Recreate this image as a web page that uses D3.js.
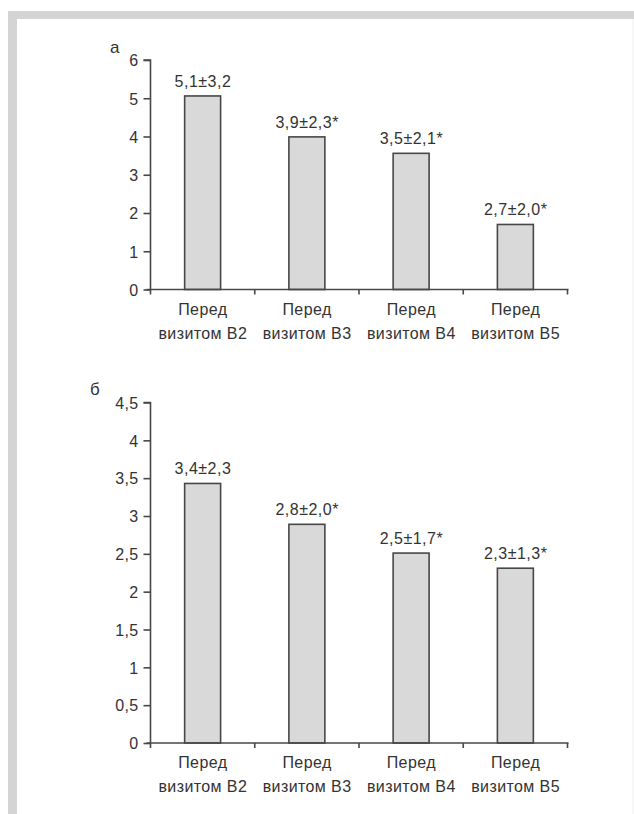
<!DOCTYPE html>
<html>
<head>
<meta charset="utf-8">
<script src="https://cdn.jsdelivr.net/npm/d3@7"></script>
<style>
  html, body { margin: 0; padding: 0; background: #fff; }
  svg { display: block; }
  text { font-family: "Liberation Sans", Arial, sans-serif; fill: #333; }
</style>
</head>
<body>
<svg width="634" height="814"></svg>
<script>
// categories shared by both panels
const categories = ["Перед визитом В2", "Перед визитом В3", "Перед визитом В4", "Перед визитом В5"]

// panel а
const valuesA = [5.06, 3.99, 3.56, 1.70]
const labelsA = ["5,1±3,2", "3,9±2,3*", "3,5±2,1*", "2,7±2,0*"]
const ticksA = [0, 1, 2, 3, 4, 5, 6]

// panel б
const valuesB = [3.43, 2.89, 2.51, 2.31]
const labelsB = ["3,4±2,3", "2,8±2,0*", "2,5±1,7*", "2,3±1,3*"]
const ticksB = [0, 0.5, 1, 1.5, 2, 2.5, 3, 3.5, 4, 4.5]

const svg = d3.select("svg")
const ink = "#474747"
const fmt = v => String(v).replace(".", ",")

// grey frame (top and left bands)
svg.append("rect").attr("x", 8).attr("y", 11).attr("width", 626).attr("height", 8).attr("fill", "#d4d4d4")
svg.append("rect").attr("x", 8).attr("y", 11).attr("width", 9).attr("height", 803).attr("fill", "#d4d4d4")
svg.append("rect").attr("x", 632.5).attr("y", 19).attr("width", 1).attr("height", 795).attr("fill", "#f0f0f0")

const x = d3.scaleBand()
    .domain(categories)
    .range([150.5, 567.5])
    .padding(0)

function panel(values, labels, ticks, top, bottom, letter, letterX, letterY) {
    const g = svg.append("g")
    const y = d3.scaleLinear()
        .domain([0, d3.max(ticks)])
        .range([bottom, top])

    const barW = x.bandwidth() * 0.345

    // bars
    g.selectAll(".bar")
        .data(values)
        .enter()
        .append("rect")
        .attr("class", "bar")
        .attr("x", (d, i) => x(categories[i]) + x.bandwidth() / 2 - barW / 2)
        .attr("y", d => y(d))
        .attr("width", barW)
        .attr("height", d => y(0) - y(d))
        .attr("fill", "#d9d9d9")
        .attr("stroke", ink)
        .attr("stroke-width", 1.6)

    // value labels
    g.selectAll(".val")
        .data(values)
        .enter()
        .append("text")
        .attr("class", "val")
        .attr("x", (d, i) => x(categories[i]) + x.bandwidth() / 2 + 0.3)
        .attr("y", d => y(d) - 9)
        .attr("text-anchor", "middle")
        .attr("font-size", 16)
        .attr("letter-spacing", 0.5)
        .text((d, i) => labels[i])

    // y axis
    const yAxis = g.append("g")
        .attr("transform", `translate(${x.range()[0]},0)`)
        .call(d3.axisLeft(y).tickValues(ticks).tickFormat(fmt).tickSize(7).tickPadding(5))
    yAxis.select(".domain").attr("d", `M-7,${y(d3.max(ticks))}H0V${y(0)}`)
    yAxis.selectAll("line, path").attr("stroke", ink).attr("stroke-width", 1.6)
    yAxis.selectAll("text")
        .attr("font-size", 16)
        .attr("letter-spacing", 0.3)
        .attr("font-family", null)
        .attr("fill", null)
        .attr("dy", "0.36em")

    // x axis with ticks at band edges
    const edges = categories.map(c => x(c)).concat([x.range()[1]])
    g.append("line")
        .attr("x1", x.range()[0] - 4).attr("x2", x.range()[1] + 1)
        .attr("y1", y(0)).attr("y2", y(0))
        .attr("stroke", ink).attr("stroke-width", 1.6)
    g.selectAll(".xtick")
        .data(edges)
        .enter()
        .append("line")
        .attr("class", "xtick")
        .attr("x1", d => d).attr("x2", d => d)
        .attr("y1", y(0)).attr("y2", y(0) + 5)
        .attr("stroke", ink).attr("stroke-width", 1.6)

    // category labels, two lines
    const cat = g.selectAll(".cat")
        .data(categories)
        .enter()
        .append("text")
        .attr("class", "cat")
        .attr("text-anchor", "middle")
        .attr("font-size", 16)
        .attr("letter-spacing", 0.4)
    cat.append("tspan")
        .attr("x", d => x(d) + x.bandwidth() / 2 + 0.2)
        .attr("y", y(0) + 25)
        .text(d => d.slice(0, d.indexOf(" ")))
    cat.append("tspan")
        .attr("x", d => x(d) + x.bandwidth() / 2 + 0.2)
        .attr("y", y(0) + 49)
        .text(d => d.slice(d.indexOf(" ") + 1))

    // panel letter
    g.append("text")
        .attr("x", letterX)
        .attr("y", letterY)
        .attr("font-size", 17)
        .text(letter)
}

panel(valuesA, labelsA, ticksA, 60, 289.5, "а", 110, 53)
panel(valuesB, labelsB, ticksB, 402.5, 743, "б", 90, 395)
</script>
</body>
</html>
